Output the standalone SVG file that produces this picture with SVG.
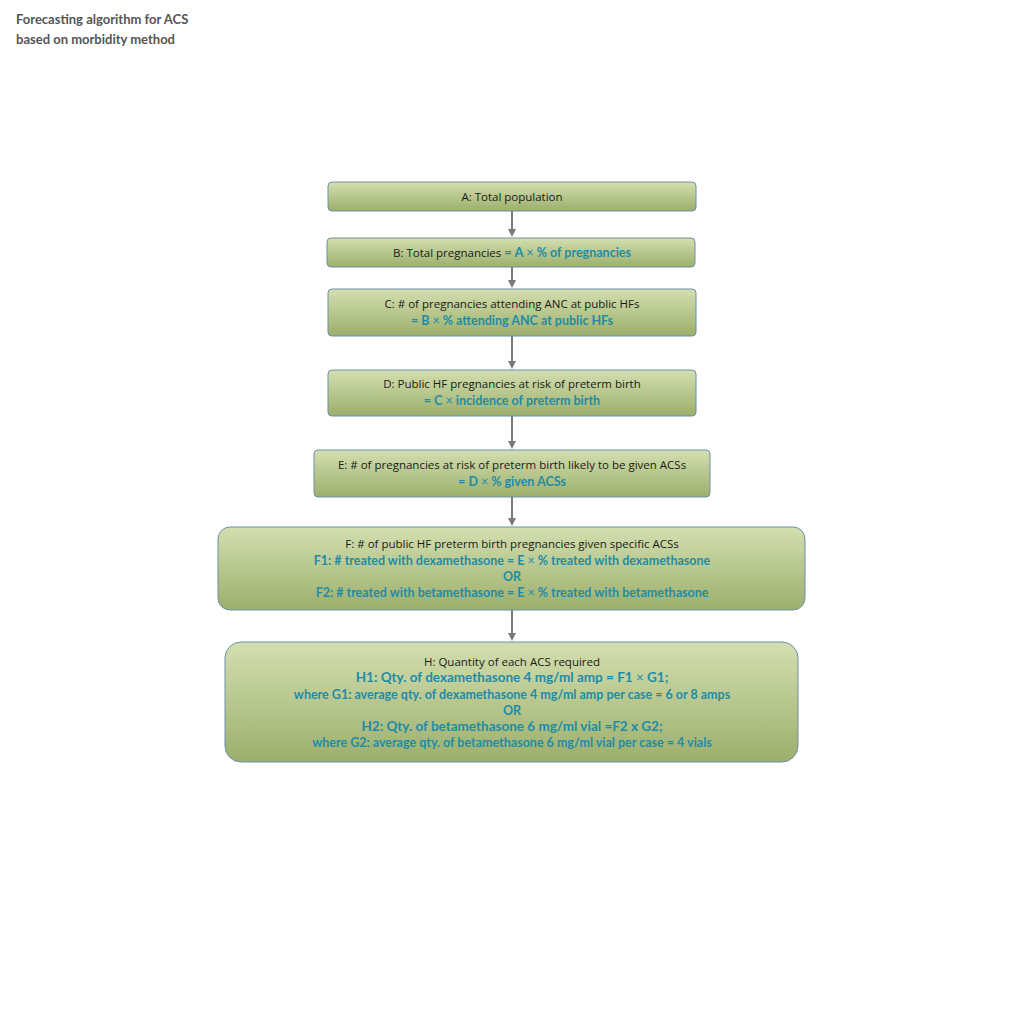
<svg xmlns="http://www.w3.org/2000/svg" width="1024" height="1024" viewBox="0 0 1024 1024">
<style>
.box{stroke:#6f8fa8;stroke-width:1}
.t{font-family:"Open Sans","Liberation Sans",sans-serif;font-size:11.5px;fill:#1a1a1a;text-anchor:middle}
.b{font-family:"Lato","Liberation Sans",sans-serif;font-size:12.5px;font-weight:bold;fill:#1e8ca8;text-anchor:middle}
.c{stroke:#7a7a7a;stroke-width:2;fill:none;marker-end:url(#ar)}
.title{font-family:"Lato","Liberation Sans",sans-serif;font-size:13px;font-weight:bold;fill:#555}
</style>
<defs>
<linearGradient id="g" x1="0" y1="0" x2="0" y2="1"><stop offset="0" stop-color="#d3dfb0"/><stop offset="1" stop-color="#9caf6c"/></linearGradient>
<marker id="ar" markerWidth="8" markerHeight="8" refX="6" refY="4" orient="auto" markerUnits="userSpaceOnUse"><path d="M0,0 L8,4 L0,8 Z" fill="#7a7a7a"/></marker>
</defs>
<rect width="1024" height="1024" fill="#fff"/>
<text class="title" x="16" y="24">Forecasting algorithm for ACS</text>
<text class="title" x="16" y="44">based on morbidity method</text>
<g id="connectors">
<path class="c" d="M512,211 V235"/>
<path class="c" d="M512,267 V286"/>
<path class="c" d="M512,336 V367"/>
<path class="c" d="M512,416 V447"/>
<path class="c" d="M512,497 V524"/>
<path class="c" d="M512,610 V639"/>
</g>
<g id="A"><rect class="box" x="328" y="182" width="368" height="29" rx="4" fill="url(#g)"/><text class="t" x="512" y="201">A: Total population</text></g>
<g id="B"><rect class="box" x="327" y="238" width="368" height="29" rx="4" fill="url(#g)"/><text class="t" x="512" y="257">B: Total pregnancies <tspan class="b" style="font-size:13px">= A </tspan><tspan class="b" style="font-weight:normal">× </tspan><tspan class="b">% of pregnancies</tspan></text></g>
<g id="C"><rect class="box" x="328" y="289" width="368" height="47" rx="4" fill="url(#g)"/><text class="t" x="512" y="308">C: # of pregnancies attending ANC at public HFs</text><text class="b" x="512" y="325">= B <tspan style="font-weight:normal">×</tspan> % attending ANC at public HFs</text></g>
<g id="D"><rect class="box" x="328" y="370" width="368" height="46" rx="4" fill="url(#g)"/><text class="t" x="512" y="388">D: Public HF pregnancies at risk of preterm birth</text><text class="b" x="512" y="405">= C <tspan style="font-weight:normal">×</tspan> incidence of preterm birth</text></g>
<g id="E"><rect class="box" x="314" y="450" width="396" height="47" rx="4" fill="url(#g)"/><text class="t" x="512" y="469">E: # of pregnancies at risk of preterm birth likely to be given ACSs</text><text class="b" x="512" y="486">= D <tspan style="font-weight:normal">×</tspan> % given ACSs</text></g>
<g id="F"><rect class="box" x="218" y="527" width="587" height="83" rx="12" fill="url(#g)"/>
<text class="t" x="512" y="548">F: # of public HF preterm birth pregnancies given specific ACSs</text>
<text class="b" x="512" y="565">F1: # treated with dexamethasone = E <tspan style="font-weight:normal">×</tspan> % treated with dexamethasone</text>
<text class="b" x="512" y="581">OR</text>
<text class="b" x="512" y="597">F2: # treated with betamethasone = E <tspan style="font-weight:normal">×</tspan> % treated with betamethasone</text></g>
<g id="H"><rect class="box" x="225" y="642" width="573" height="120" rx="16" fill="url(#g)"/>
<text class="t" x="512" y="666">H: Quantity of each ACS required</text>
<text class="b" x="512" y="682" style="font-size:13.5px">H1: Qty. of dexamethasone 4 mg/ml amp = F1 <tspan style="font-weight:normal">×</tspan> G1;</text>
<text class="b" x="512" y="699">where G1: average qty. of dexamethasone 4 mg/ml amp per case = 6 or 8 amps</text>
<text class="b" x="512" y="715">OR</text>
<text class="b" x="512" y="731" style="font-size:13.5px">H2: Qty. of betamethasone 6 mg/ml vial =F2 x G2;</text>
<text class="b" x="512" y="747">where G2: average qty. of betamethasone 6 mg/ml vial per case = 4 vials</text></g>
</svg>
